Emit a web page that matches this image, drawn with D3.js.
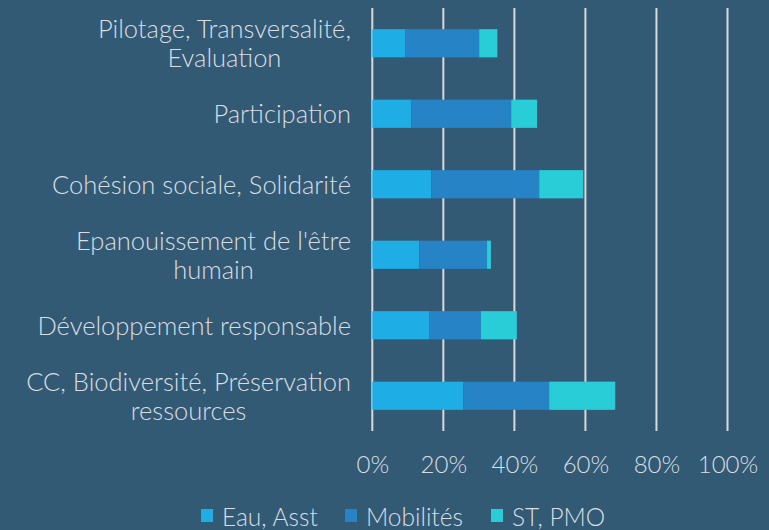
<!DOCTYPE html>
<html><head><meta charset="utf-8">
<script src="https://cdn.jsdelivr.net/npm/d3@7"></script>
<style>
html,body{margin:0;padding:0;background:#335a74;}
svg{display:block;font-family:Lato, "Open Sans", sans-serif;font-weight:300;}
</style></head>
<body>
<svg id="chart" width="769" height="530"></svg>
<script>
const categories = [
  "Pilotage, Transversalité,\nEvaluation",
  "Participation",
  "Cohésion sociale, Solidarité",
  "Epanouissement de l'être\nhumain",
  "Développement responsable",
  "CC, Biodiversité, Préservation\nressources"
];
const seriesNames = ["Eau, Asst", "Mobilités", "ST, PMO"];
const eauAsst   = [0.093, 0.110, 0.166, 0.132, 0.160, 0.256];
const mobilites = [0.208, 0.281, 0.304, 0.191, 0.146, 0.242];
const stPmo     = [0.051, 0.073, 0.124, 0.011, 0.101, 0.186];
const tickValues = [0, 0.2, 0.4, 0.6, 0.8, 1.0];
const colors = ["#1eade5", "#2683c6", "#28cdd8"];
const textColor = "#d9dee3";

const svg = d3.select("#chart");
const W = 769, H = 530;
svg.append("rect").attr("width", W).attr("height", H).attr("fill", "#335a74");

const x = d3.scaleLinear().domain([0, 1]).range([372.3, 727.5]);
const y = d3.scaleBand().domain(categories).range([8, 431]).paddingInner(0.6).paddingOuter(0.3);

// gridlines
svg.append("g").selectAll("line").data(tickValues).join("line")
  .attr("x1", d => x(d)).attr("x2", d => x(d))
  .attr("y1", 8).attr("y2", 431)
  .attr("stroke", "#d9d9d9").attr("stroke-width", 2);

// bars
const table = categories.map((c, i) => ({cat: c, v: [eauAsst[i], mobilites[i], stPmo[i]]}));
const stacked = [];
table.forEach(row => {
  let acc = 0;
  row.v.forEach((v, s) => { stacked.push({cat: row.cat, s, x0: acc, x1: acc + v}); acc += v; });
});
svg.append("g").selectAll("rect").data(stacked).join("rect")
  .attr("x", d => x(d.x0)).attr("width", d => x(d.x1) - x(d.x0))
  .attr("y", d => y(d.cat)).attr("height", y.bandwidth())
  .attr("fill", d => colors[d.s]);

// x axis labels
const xAxis = d3.axisBottom(x).tickValues(tickValues).tickFormat(d3.format(".0%")).tickSize(0).tickPadding(0);
const gx = svg.append("g").attr("transform", "translate(0,473)").call(xAxis);
gx.select(".domain").remove();
gx.selectAll("text").attr("fill", textColor).attr("font-size", 24)
  .attr("font-family", "Lato, sans-serif").attr("font-weight", 300).attr("dy", 0);

// y labels (block right-aligned, lines centered)
const lh = 29;
const gy = svg.append("g");
categories.forEach(c => {
  const lines = c.split("\n");
  const cy = y(c) + y.bandwidth() / 2;
  const t = gy.append("text").attr("text-anchor", "middle").attr("fill", textColor).attr("font-size", 25.5);
  const spans = lines.map((ln, i) => t.append("tspan")
    .attr("y", cy + 9.5 + (i - (lines.length - 1) / 2) * lh).text(ln));
  const maxW = d3.max(spans, s => s.node().getComputedTextLength());
  spans.forEach(s => s.attr("x", 351 - maxW / 2));
});

// legend
const legendX = [201, 345, 491];
const lg = svg.append("g");
seriesNames.forEach((n, i) => {
  lg.append("rect").attr("x", legendX[i]).attr("y", 509).attr("width", 12).attr("height", 13).attr("fill", colors[i]);
  lg.append("text").attr("x", legendX[i] + 21).attr("y", 525.5)
    .attr("fill", textColor).attr("font-size", 24.5).text(n);
});
</script>
</body></html>
